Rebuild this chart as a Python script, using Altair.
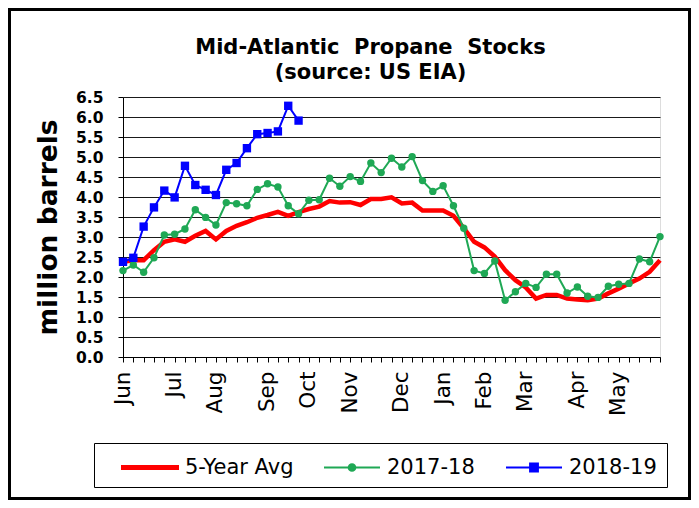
import altair as alt
import pandas as pd

# ---------------- data ----------------
weeks = list(range(53))
five_year = [2.38, 2.42, 2.42, 2.67, 2.88, 2.94, 2.88, 3.03, 3.15, 2.94,
             3.15, 3.28, 3.37, 3.48, 3.55, 3.63, 3.53, 3.62, 3.70, 3.76,
             3.90, 3.86, 3.87, 3.80, 3.95, 3.95, 3.99, 3.84, 3.86, 3.66,
             3.66, 3.66, 3.53, 3.22, 2.88, 2.74, 2.51, 2.17, 1.92, 1.74,
             1.46, 1.55, 1.55, 1.46, 1.44, 1.42, 1.46, 1.59, 1.71, 1.84,
             1.96, 2.13, 2.42]
y2017_18 = [2.16, 2.30, 2.12, 2.48, 3.05, 3.07, 3.20, 3.68, 3.49, 3.30,
            3.86, 3.83, 3.78, 4.19, 4.33, 4.25, 3.78, 3.58, 3.92, 3.93,
            4.47, 4.27, 4.51, 4.39, 4.85, 4.61, 4.97, 4.75, 5.01, 4.41,
            4.14, 4.28, 3.78, 3.22, 2.16, 2.09, 2.40, 1.42, 1.63, 1.84,
            1.74, 2.07, 2.07, 1.60, 1.75, 1.52, 1.49, 1.77, 1.82, 1.84,
            2.45, 2.38, 3.01]
y2018_19 = [2.38, 2.48, 3.26, 3.74, 4.16, 3.99, 4.78, 4.30, 4.18, 4.05,
            4.68, 4.85, 5.22, 5.57, 5.60, 5.64, 6.28, 5.91]
month_labels = ["Jun", "Jul", "Aug", "Sep", "Oct", "Nov", "Dec",
                "Jan", "Feb", "Mar", "Apr", "May"]
month_weeks = [0, 5, 9, 14, 18, 22, 27, 31, 35, 39, 44, 48]
y_ticks = [0.0, 0.5, 1.0, 1.5, 2.0, 2.5, 3.0, 3.5, 4.0, 4.5, 5.0, 5.5, 6.0, 6.5]
series_names = ["5-Year Avg", "2017-18", "2018-19"]
series_colors = ["#ff0000", "#1fa855", "#0000ff"]

rows = []
for name, vals in zip(series_names, [five_year, y2017_18, y2018_19]):
    for w, v in zip(weeks, vals):
        rows.append({"week": w, "series": name, "value": v})
df = pd.DataFrame(rows)

label_expr = " : ".join(
    f"datum.value == {w} ? '{m}'" for w, m in zip(month_weeks, month_labels)
) + " : ''"

x_enc = alt.X(
    "week:Q",
    scale=alt.Scale(domain=[0, 52], nice=False, zero=False),
    axis=alt.Axis(values=weeks, labelExpr=label_expr, labelAngle=270,
                  labelAlign="right", labelBaseline="middle",
                  labelOverlap=False, labelFlush=False, grid=False,
                  title=None, tickSize=5, labelPadding=9,
                  labelFont="DejaVu Sans", labelFontSize=21.5,
                  labelColor="black", domainColor="black",
                  tickColor="black"),
)
y_enc = alt.Y(
    "value:Q",
    scale=alt.Scale(domain=[0, 6.5], nice=False, zero=True),
    axis=alt.Axis(values=y_ticks, format=".1f", title="million barrels",
                  grid=True, gridColor="#1a1a1a", gridWidth=1,
                  tickSize=5, labelPadding=15, labelFont="DejaVu Sans",
                  labelFontSize=15.5, labelFontWeight="bold",
                  labelColor="black", domainColor="black",
                  tickColor="black", titleFont="DejaVu Sans",
                  titleFontSize=26.5, titleFontWeight="bold",
                  titleColor="black", titlePadding=13),
)

base = alt.Chart(df)

frame = alt.Chart(pd.DataFrame({"a": [0]})).mark_rect(
    fill="transparent", stroke="black", strokeWidth=3
).encode(
    x=alt.value(-113.5), x2=alt.value(566.5),
    y=alt.value(-87.5), y2=alt.value(401.5),
)

red = base.transform_filter(alt.datum.series == "5-Year Avg").mark_line(
    color="#ff0000", strokeWidth=4.5
).encode(x=x_enc, y=y_enc)

green_line = base.transform_filter(alt.datum.series == "2017-18").mark_line(
    color="#1fa855", strokeWidth=2
).encode(x=x_enc, y=y_enc)
green_pts = base.transform_filter(alt.datum.series == "2017-18").mark_point(
    filled=True, color="#1fa855", size=55, opacity=1, shape="circle"
).encode(x=x_enc, y=y_enc)

blue_line = base.transform_filter(alt.datum.series == "2018-19").mark_line(
    color="#0000ff", strokeWidth=2
).encode(x=x_enc, y=y_enc)
blue_pts = base.transform_filter(alt.datum.series == "2018-19").mark_point(
    filled=True, color="#0000ff", size=70, opacity=1, shape="square"
).encode(x=x_enc, y=y_enc)

# legend symbols: scale factor = sqrt(784)/2 = 14 px per unit, line 56 px long
legend_shapes = [
    "M0.25,-0.1H4.25V0.1H0.25Z",
    "M0.25,0H4.25M2.49,0A0.24,0.24,0,1,1,2.01,0A0.24,0.24,0,1,1,2.49,0Z",
    "M0.25,0H4.25M1.97,-0.28H2.53V0.28H1.97Z",
]
legend_layer = base.transform_filter("false").mark_point(
    filled=True, size=784, opacity=1, strokeWidth=2
).encode(
    x=x_enc, y=y_enc,
    color=alt.Color("series:N",
                    scale=alt.Scale(domain=series_names, range=series_colors),
                    legend=alt.Legend(
                        orient="none", legendX=-29, legendY=346,
                        direction="horizontal", title=None,
                        strokeColor="black", fillColor="white", padding=9.5,
                        columnPadding=12, labelOffset=51.5,
                        labelFont="DejaVu Sans", labelFontSize=21,
                        labelColor="black", symbolSize=784,
                        symbolStrokeWidth=2, labelLimit=300)),
    stroke=alt.Stroke("series:N",
                      scale=alt.Scale(domain=series_names, range=series_colors)),
    shape=alt.Shape("series:N",
                    scale=alt.Scale(domain=series_names, range=legend_shapes)),
)

chart = alt.layer(
    frame, red, green_line, green_pts, blue_line, blue_pts, legend_layer
).properties(
    width=537, height=260,
    title=alt.TitleParams(
        text="Mid-Atlantic\u00a0 Propane\u00a0 Stocks",
        subtitle="(source: US EIA)",
        font="DejaVu Sans", fontSize=21, fontWeight="bold", color="black",
        subtitleFont="DejaVu Sans", subtitleFontSize=21,
        subtitleFontWeight="bold", subtitleColor="black",
        subtitlePadding=4, anchor="middle", frame="group",
        dx=-21, dy=75, offset=0,
    ),
    autosize=alt.AutoSizeParams(type="none"),
    padding={"left": 115, "top": 89, "right": 31, "bottom": 143},
).configure_view(stroke="transparent").configure(background="white")

chart.save("out.html", embed_options={"renderer": "svg", "actions": False})
